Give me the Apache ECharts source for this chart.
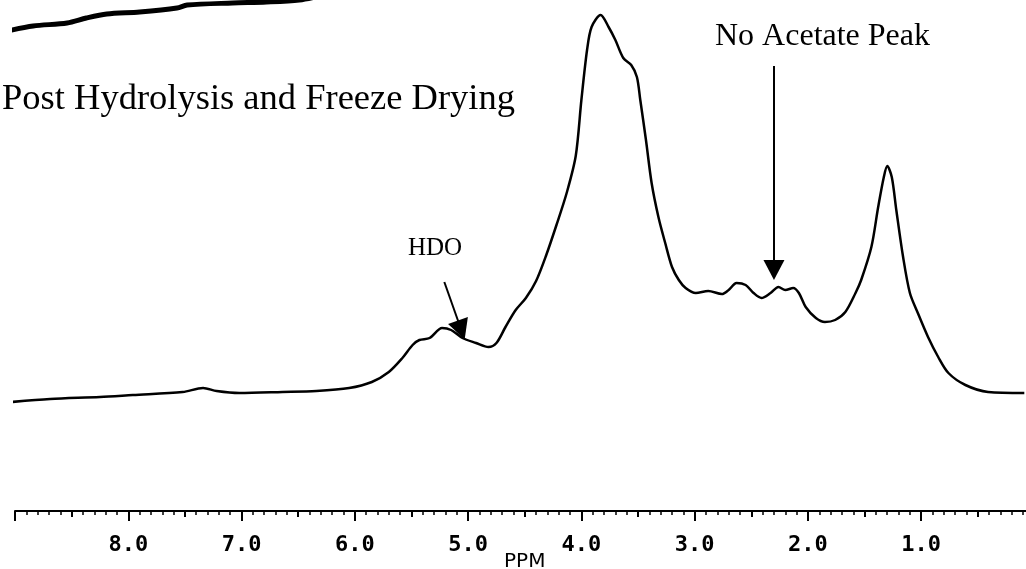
<!DOCTYPE html>
<html>
<head>
<meta charset="utf-8">
<script src="https://cdn.jsdelivr.net/npm/echarts@6/dist/echarts.min.js"></script>
<style>
html,body{margin:0;padding:0;background:#fff;}
#chart{width:1026px;height:569px;}
</style>
</head>
<body>
<div id="chart"></div>
<script>
// Chemical shift (ppm) and intensity of the spectrum
var ppm = [9.03,8.69,8.25,7.96,7.52,7.34,7.22,7.02,6.64,6.34,6.05,5.85,5.70,5.58,5.49,5.43,5.34,5.23,5.15,5.05,4.93,4.82,4.75,4.67,4.58,4.49,4.40,4.31,4.22,4.13,4.05,4.00,3.95,3.91,3.83,3.76,3.70,3.63,3.56,3.51,3.48,3.43,3.38,3.32,3.26,3.20,3.14,3.08,2.99,2.88,2.76,2.70,2.63,2.55,2.48,2.41,2.33,2.26,2.20,2.13,2.08,2.02,1.93,1.85,1.76,1.67,1.58,1.53,1.44,1.38,1.33,1.30,1.26,1.22,1.16,1.10,1.03,0.94,0.85,0.76,0.61,0.41,0.09];
var intensity = [109,112,114,116,119,123,120,118,119,120,123,129,139,153,166,171,173,183,181,173,168,164,168,184,201,213,230,256,286,318,355,411,461,484,496,484,471,453,446,434,411,371,328,294,268,244,231,223,218,220,217,221,228,226,218,213,218,224,221,223,218,204,193,189,191,199,218,231,264,304,334,345,334,301,254,218,198,174,154,138,126,119,118];
// Edge of the spectrum above (cut off at the top)
var upperPpm = [9.07,8.84,8.54,8.37,8.19,7.90,7.57,7.48,7.08,6.78,6.49,6.31];
var upperIntensity = [480,485,488,493,497,499,503,506,508,509,511,515];
// Tick labels
var tickLabels = ['1.0','2.0','3.0','4.0','5.0','6.0','7.0','8.0'];
// Annotations: arrows [fromPpm, fromI, toPpm, toI]
var acetateArrow = [2.30, 445, 2.30, 241];
var hdoArrow = [5.21, 229, 5.06, 181];
var texts = {title:'Post Hydrolysis and Freeze Drying', hdo:'HDO', acetate:'No Acetate Peak', axisName:'PPM'};

var main = ppm.map(function(p,i){return [p,intensity[i]];});
var upper = upperPpm.map(function(p,i){return [p,upperIntensity[i]];});

function arrow(a){
  return [{coord:[a[0],a[1]],symbol:'none'},{coord:[a[2],a[3]],symbol:'triangle',symbolSize:[21,20]}];
}

var chart = echarts.init(document.getElementById('chart'),null,{renderer:'canvas'});
var baseX = {type:'value',min:0,max:9,inverse:true,position:'bottom',gridIndex:0,splitLine:{show:false}};
chart.setOption({
  animation:false,
  backgroundColor:'#fff',
  grid:{left:15,right:-8.5,top:0,bottom:58,containLabel:false,outerBoundsMode:'none'},
  xAxis:[
    Object.assign({},baseX,{interval:1,
      axisLine:{show:true,lineStyle:{color:'#000',width:2}},
      axisTick:{show:true,length:10,lineStyle:{color:'#000',width:2}},
      axisLabel:{show:true,margin:23,color:'#000',fontFamily:'DejaVu Sans Mono',fontWeight:'bold',fontSize:22,
        formatter:function(v){var s=v.toFixed(1);return tickLabels.indexOf(s)>=0?s:'';}},
      name:texts.axisName,nameLocation:'middle',nameGap:41,nameMoveOverlap:false,
      nameTextStyle:{color:'#000',fontFamily:'DejaVu Sans',fontSize:20,verticalAlign:'top'}}),
    Object.assign({},baseX,{interval:0.5,
      axisLine:{show:false},axisLabel:{show:false},
      axisTick:{show:true,length:6,lineStyle:{color:'#000',width:2}}}),
    Object.assign({},baseX,{interval:0.1,
      axisLine:{show:false},axisLabel:{show:false},
      axisTick:{show:true,length:4,lineStyle:{color:'#000',width:1.5}}})
  ],
  yAxis:{type:'value',min:0,max:511,show:false},
  series:[
    {type:'line',data:main,smooth:0.3,showSymbol:false,clip:false,
      lineStyle:{color:'#000',width:2.5},
      markLine:{silent:true,animation:false,label:{show:false},
        lineStyle:{color:'#000',width:2,type:'solid'},
        emphasis:{disabled:true},
        data:[arrow(acetateArrow),arrow(hdoArrow)]}},
    {type:'line',data:upper,smooth:0.3,showSymbol:false,clip:false,
      lineStyle:{color:'#000',width:5}}
  ],
  graphic:[
    {type:'text',left:2,top:81,style:{text:texts.title,fontFamily:'Liberation Serif',fontSize:36.5,fill:'#000'}},
    {type:'text',left:408,top:236,style:{text:texts.hdo,fontFamily:'Liberation Serif',fontSize:25,fill:'#000'}},
    {type:'text',left:715,top:21,style:{text:texts.acetate,fontFamily:'Liberation Serif',fontSize:32,fill:'#000'}}
  ]
});
</script>
</body>
</html>
